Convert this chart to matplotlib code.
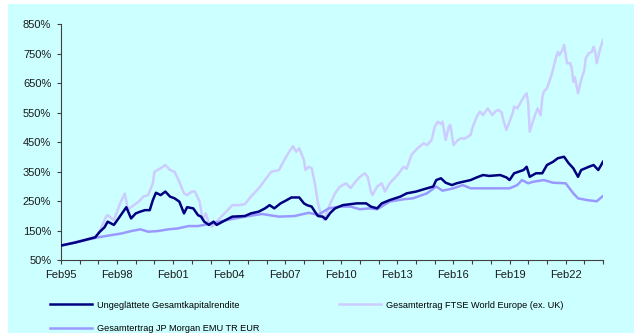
import matplotlib
matplotlib.use("Agg")
import matplotlib.pyplot as plt
import matplotlib.dates as mdates
from matplotlib.patches import Rectangle
from matplotlib.ticker import FuncFormatter
import pandas as pd

plt.rcParams['font.family'] = ['Liberation Sans', 'DejaVu Sans']

# Ungeglättete Gesamtkapitalrendite (index, Feb95 = 100%)
navy_dates = [
    "1995-02", "1995-11", "1996-12", "1997-03", "1997-06", "1997-08", "1997-12",
    "1998-03", "1998-06", "1998-08", "1998-11", "1999-02", "1999-05", "1999-08",
    "1999-11", "2000-01", "2000-03", "2000-06", "2000-09", "2000-12", "2001-03",
    "2001-06", "2001-09", "2001-11", "2002-03", "2002-06", "2002-08", "2002-10",
    "2003-01", "2003-04", "2003-06", "2003-12", "2004-04", "2004-12", "2005-04",
    "2005-09", "2006-01", "2006-04", "2006-07", "2006-11", "2007-03", "2007-06",
    "2007-11", "2008-02", "2008-04", "2008-07", "2008-09", "2008-11", "2009-02",
    "2009-04", "2009-07", "2009-10", "2010-03", "2010-12", "2011-06", "2011-09",
    "2012-01", "2012-04", "2012-09", "2013-04", "2013-08", "2014-02", "2014-09",
    "2015-01", "2015-03", "2015-06", "2015-09", "2016-01", "2016-04", "2016-08",
    "2017-01", "2017-05", "2017-09", "2018-01", "2018-08", "2018-12", "2019-02",
    "2019-05", "2019-11", "2020-01", "2020-03", "2020-07", "2020-11", "2021-02",
    "2021-06", "2021-09", "2022-01", "2022-04", "2022-07", "2022-10", "2022-12",
    "2023-05", "2023-08", "2023-11", "2024-02",
]
navy_vals = [
    100, 110, 128, 147, 162, 181, 170,
    192, 215, 230, 192, 209, 215, 220,
    220, 254, 279, 271, 283, 266, 260,
    249, 209, 230, 226, 203, 198, 181,
    170, 181, 170, 187, 198, 200, 209,
    215, 226, 237, 226, 243, 254, 263,
    263, 243, 237, 232, 215, 200, 198,
    189, 211, 226, 237, 243, 243, 232,
    226, 243, 254, 266, 277, 283, 294,
    300, 322, 328, 313, 305, 311, 316,
    322, 331, 339, 336, 339, 331, 322,
    345, 356, 367, 333, 345, 345, 373,
    384, 396, 401, 379, 362, 333, 356,
    367, 373, 356, 384,
]

# Gesamtertrag FTSE World Europe (ex. UK)
ftse_dates = [
    "1995-02", "1995-11", "1996-12", "1997-03", "1997-07", "1997-08", "1997-12",
    "1998-04", "1998-07", "1998-08", "1998-09", "1998-10", "1999-04", "1999-07",
    "1999-10", "2000-01", "2000-02", "2000-06", "2000-09", "2000-12", "2001-03",
    "2001-06", "2001-09", "2001-11", "2002-02", "2002-04", "2002-07", "2002-09",
    "2002-11", "2003-01", "2003-03", "2003-07", "2003-11", "2004-04", "2004-08",
    "2004-12", "2005-04", "2005-09", "2006-01", "2006-05", "2006-10", "2007-02",
    "2007-04", "2007-07", "2007-09", "2007-11", "2008-02", "2008-03", "2008-05",
    "2008-07", "2008-09", "2008-11", "2009-01", "2009-03", "2009-07", "2009-10",
    "2010-01", "2010-05", "2010-08", "2010-11", "2011-02", "2011-05", "2011-07",
    "2011-09", "2011-10", "2012-01", "2012-04", "2012-06", "2012-09", "2013-02",
    "2013-06", "2013-08", "2013-11", "2014-03", "2014-07", "2014-09", "2014-12",
    "2015-02", "2015-04", "2015-06", "2015-07", "2015-09", "2015-11", "2015-12",
    "2016-02", "2016-05", "2016-07", "2016-09", "2017-01", "2017-02", "2017-05",
    "2017-07", "2017-09", "2017-12", "2018-03", "2018-05", "2018-07", "2018-09",
    "2018-10", "2018-12", "2019-04", "2019-05", "2019-07", "2019-10", "2019-12",
    "2020-01", "2020-02", "2020-03", "2020-06", "2020-08", "2020-10", "2020-11",
    "2020-12", "2021-02", "2021-05", "2021-08", "2021-09", "2021-10", "2021-12",
    "2022-01", "2022-03", "2022-05", "2022-06", "2022-07", "2022-08", "2022-10",
    "2022-12", "2023-02", "2023-03", "2023-05", "2023-07", "2023-08", "2023-09",
    "2023-10", "2023-12", "2024-02",
]
ftse_vals = [
    100, 112, 128, 150, 198, 203, 186,
    243, 276, 250, 218, 226, 249, 266,
    271, 311, 350, 362, 373, 356, 350,
    316, 277, 271, 283, 283, 250, 187,
    209, 175, 164, 187, 209, 237, 237,
    240, 266, 294, 322, 350, 356, 396,
    413, 437, 418, 430, 390, 356, 367,
    362, 311, 243, 204, 187, 243, 277,
    299, 311, 295, 316, 333, 345, 333,
    283, 271, 300, 311, 283, 311, 339,
    367, 360, 407, 430, 447, 440, 458,
    503, 520, 512, 520, 458, 503, 509,
    441, 458, 464, 462, 475, 497, 537,
    554, 542, 565, 542, 555, 560, 550,
    526, 492, 548, 571, 565, 593, 610,
    616, 580, 486, 537, 565, 542, 600,
    622, 633, 678, 740, 757, 745, 763,
    780, 718, 718, 701, 655, 670, 616,
    661, 695, 735, 752, 757, 774, 757,
    718, 763, 797,
]

# Gesamtertrag JP Morgan EMU TR EUR
jpm_dates = [
    "1995-02", "1995-11", "1996-08", "1997-02", "1997-11", "1998-05", "1998-11",
    "1999-05", "1999-10", "2000-04", "2000-11", "2001-05", "2001-12", "2002-06",
    "2003-03", "2004-01", "2004-12", "2005-11", "2006-10", "2007-08", "2008-05",
    "2008-11", "2009-06", "2010-01", "2010-08", "2011-02", "2011-08", "2012-01",
    "2012-09", "2013-06", "2013-12", "2014-09", "2015-03", "2015-07", "2016-02",
    "2016-08", "2017-01", "2017-09", "2018-06", "2019-02", "2019-07", "2019-10",
    "2020-02", "2020-05", "2020-12", "2021-06", "2022-02", "2022-07", "2022-10",
    "2023-04", "2023-10", "2024-02",
]
jpm_vals = [
    100, 110, 121, 128, 136, 141, 149,
    155, 147, 149, 155, 158, 166, 166,
    175, 187, 198, 207, 198, 200, 211,
    204, 226, 232, 232, 223, 226, 223,
    249, 257, 260, 277, 300, 286, 294,
    305, 294, 294, 294, 294, 305, 322,
    311, 316, 322, 313, 311, 277, 260,
    254, 250, 268,
]

y_ticks = [50, 150, 250, 350, 450, 550, 650, 750, 850]

labels = [
    "Ungeglättete Gesamtkapitalrendite",
    "Gesamtertrag FTSE World Europe (ex. UK)",
    "Gesamtertrag JP Morgan EMU TR EUR",
]
colors = ["#000080", "#CCCCFF", "#9999FF"]

W, H = 634, 333
fig = plt.figure(figsize=(W / 100, H / 100), dpi=100)
# cyan chart area, leaving a thin white strip on the left and top
fig.patches.append(Rectangle((8 / W, 0), 1 - 8 / W, 1 - 4 / H,
                             transform=fig.transFigure, facecolor="#CCFFFF",
                             edgecolor="none", zorder=-10))

ax = fig.add_axes([61 / W, 1 - 260.3 / H, 542 / W, 236 / H])
ax.set_facecolor("none")

l1, = ax.plot(pd.to_datetime(navy_dates), navy_vals, color=colors[0], lw=1.8, zorder=3)
l2, = ax.plot(pd.to_datetime(ftse_dates), ftse_vals, color=colors[1], lw=1.8, zorder=2)
l3, = ax.plot(pd.to_datetime(jpm_dates), jpm_vals, color=colors[2], lw=1.8, zorder=2.5)

ax.set_xlim(pd.Timestamp("1995-02-01"), pd.Timestamp("2024-02-01"))
ax.set_ylim(50, 850)
ax.set_yticks(y_ticks)
ax.yaxis.set_major_formatter(FuncFormatter(lambda v, p: f"{v:.0f}%"))

ax.xaxis.set_major_locator(mdates.YearLocator(3, month=2, day=1))
ax.xaxis.set_minor_locator(mdates.YearLocator(1, month=2, day=1))
ax.xaxis.set_major_formatter(mdates.DateFormatter("%b%y"))

for s in ["top", "right"]:
    ax.spines[s].set_visible(False)
for s in ["left", "bottom"]:
    ax.spines[s].set_color("#404040")
    ax.spines[s].set_linewidth(0.8)

ax.tick_params(axis="both", which="both", direction="out", length=3,
               width=0.8, color="#404040", labelsize=8, labelcolor="#1a1a1a")
ax.tick_params(axis="x", pad=4)
ax.tick_params(axis="y", pad=4)

fig.legend([l1, l3, l2], [labels[0], labels[2], labels[1]],
           loc="upper left", bbox_to_anchor=(50 / W, 1 - 300.5 / H),
           ncol=2, frameon=False, fontsize=6.6, borderpad=0,
           handlelength=4.6, handletextpad=0.5, columnspacing=8.7,
           labelspacing=1.6, borderaxespad=0)

fig.savefig("out.png", dpi=100)
